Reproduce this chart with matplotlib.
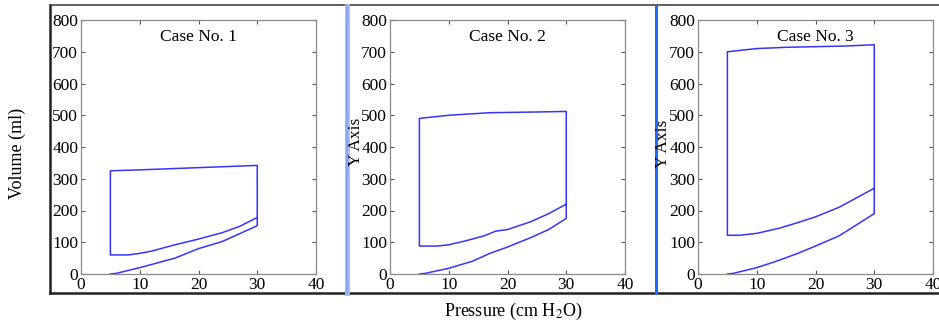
import numpy as np
import matplotlib
matplotlib.use("Agg")
import matplotlib.pyplot as plt
from matplotlib.lines import Line2D

plt.rcParams['font.family'] = ['Liberation Serif', 'DejaVu Serif']
plt.rcParams['mathtext.fontset'] = 'stix'

# loop data: inflation limb, then up the right side, along the top, down and back
case1_x = [5, 6, 10, 16, 20, 24, 30, 30, 20, 10, 5, 5, 8, 10, 12, 16, 20, 24, 27, 30]
case1_y = [0, 2, 20, 50, 80, 102, 152, 342, 335, 328, 325, 60, 60, 65, 72, 92, 110, 130, 150, 178]

case2_x = [5, 6, 10, 14, 17, 20, 24, 27, 30, 30, 24, 17, 10, 6, 5, 5, 8, 10, 13, 16, 18, 20, 24, 27, 30]
case2_y = [0, 2, 18, 40, 65, 85, 115, 140, 175, 512, 510, 508, 500, 492, 490, 88, 88, 92, 105, 120, 135, 140, 165, 190, 220]

case3_x = [5, 6, 10, 13, 17, 20, 24, 27, 30, 30, 25, 20, 15, 10, 6, 5, 5, 7, 10, 14, 17, 20, 24, 27, 30]
case3_y = [0, 2, 20, 38, 65, 88, 120, 155, 190, 722, 718, 716, 714, 710, 702, 700, 122, 122, 128, 145, 162, 180, 210, 240, 270]

titles = ["Case No. 1", "Case No. 2", "Case No. 3"]
xs = [case1_x, case2_x, case3_x]
ys = [case1_y, case2_y, case3_y]

W, H = 939, 324
fig = plt.figure(figsize=(W / 100, H / 100), dpi=100)

def px(x0, y0, w, h):
    return [x0 / W, 1 - (y0 + h) / H, w / W, h / H]

lefts = [81, 390, 698]
for i in range(3):
    ax = fig.add_axes(px(lefts[i], 20, 235, 254))
    ax.plot(xs[i], ys[i], color='#3535ff', lw=1.1)
    ax.set_xlim(0, 40)
    ax.set_ylim(0, 800)
    ax.set_xticks(np.arange(0, 41, 10))
    ax.set_yticks(np.arange(0, 801, 100))
    ax.tick_params(direction='in', length=3, width=0.8, color='#555555',
                   top=True, right=True, labelsize=12.5, pad=2)
    for s in ax.spines.values():
        s.set_color('#8a8a8a')
        s.set_linewidth(0.9)
    ax.text(20, 745, titles[i], ha='center', va='center', fontsize=12.5)

# outer frame and separators from the screenshot composite
fig.add_artist(Line2D([50 / W, 50 / W], [1 - 5 / H, 1 - 293 / H], color='#222222', lw=1.8))
fig.add_artist(Line2D([50 / W, 1], [1 - 5 / H, 1 - 5 / H], color='#444444', lw=1.2))
fig.add_artist(Line2D([50 / W, 1], [1 - 293 / H, 1 - 293 / H], color='#222222', lw=1.8))
fig.add_artist(Line2D([347 / W, 347 / W], [1 - 6 / H, 1 - 293 / H], color='#a3b9f6', lw=3.5))
fig.add_artist(Line2D([346.5 / W, 346.5 / W], [1 - 6 / H, 1 - 293 / H], color='#86a3f2', lw=1.2))
fig.add_artist(Line2D([655.5 / W, 655.5 / W], [1 - 6 / H, 1 - 293 / H], color='#1f6bff', lw=2.2))

fig.text(17 / W, 1 - 153 / H, "Volume (ml)", rotation=90, ha='center', va='center', fontsize=13)
fig.text(356 / W, 1 - 142 / H, "Y Axis", rotation=90, ha='center', va='center', fontsize=12.5)
fig.text(663 / W, 1 - 144 / H, "Y Axis", rotation=90, ha='center', va='center', fontsize=12.5)
fig.text(513 / W, 1 - 311 / H, r"Pressure (cm H$_2$O)", ha='center', va='center', fontsize=13)

fig.savefig("out.png", dpi=100)
